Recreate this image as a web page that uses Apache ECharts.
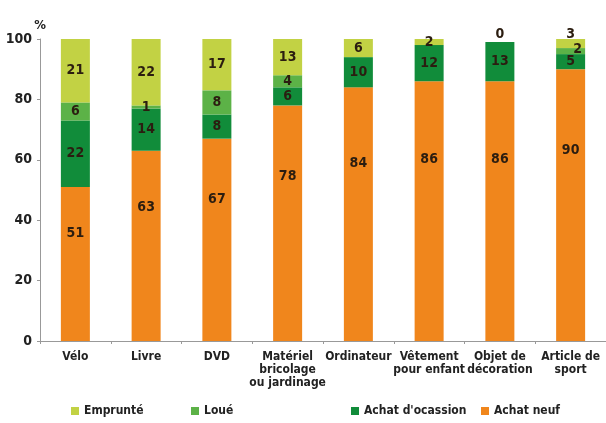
<!DOCTYPE html>
<html><head><meta charset="utf-8">
<script src="https://cdn.jsdelivr.net/npm/echarts@6/dist/echarts.min.js"></script>
<style>html,body{margin:0;padding:0;background:#fff}#c{width:606px;height:423px}</style>
</head><body><div id="c"></div>
<script>
var categories = ['Vélo','Livre','DVD','Matériel\nbricolage\nou jardinage','Ordinateur','Vêtement\npour enfant','Objet de\ndécoration','Article de\nsport'];
var achatNeuf = [51,63,67,78,84,86,86,90];
var achatOccasion = [22,14,8,6,10,12,13,5];
var loue = [6,1,8,4,0,0,0,2];
var emprunte = [21,22,17,13,6,2,0,3];
var yTicks = [0,20,40,60,80,100];

var FONT = '"Liberation Sans Narrow","DejaVu Sans Condensed",sans-serif';
var labelBase = {show:true, position:'inside', color:'#2b1d10', fontFamily:FONT, fontWeight:'bold', fontSize:14};

function mk(name, vals, color, overrides, seriesLabel){
  return {
    name:name, type:'bar', stack:'t', barWidth:29,
    itemStyle:{color:color},
    label:Object.assign({}, labelBase, {formatter:function(p){return p.value===0?'':p.value;}}, seriesLabel||{}),
    data: vals.map(function(v,i){
      var o = {value:v};
      if (overrides && overrides[i]) o.label = overrides[i];
      return o;
    })
  };
}
var zeroTop = {show:true, position:'top', distance:1, formatter:function(p){return String(p.value);}};
var empOver = {}; empOver[6] = zeroTop; empOver[7] = {position:'top', distance:-2};
var loueOver = {}; loueOver[7] = {position:'right', distance:-12, offset:[0,-2]};

var chart = echarts.init(document.getElementById('c'));
var legendCommon = {bottom:1, itemWidth:8, itemHeight:8, icon:'rect', textStyle:{fontFamily:FONT, fontSize:12, color:'#222', fontWeight:'bold'}};
chart.setOption({
  animation:false,
  grid:{left:40, right:0, top:39, bottom:82},
  legend:[
    Object.assign({left:66, data:['Emprunté']}, legendCommon),
    Object.assign({left:186, data:['Loué']}, legendCommon),
    Object.assign({left:346, data:["Achat d'ocassion"]}, legendCommon),
    Object.assign({left:476, data:['Achat neuf']}, legendCommon)
  ],
  xAxis:{type:'category', data:categories,
    axisLine:{lineStyle:{color:'#999'}},
    axisTick:{show:true, length:3, lineStyle:{color:'#999'}},
    axisLabel:{interval:0, color:'#222', fontFamily:FONT, fontWeight:'bold', fontSize:12, lineHeight:13, margin:9}
  },
  yAxis:{type:'value', min:0, max:100, interval:20, name:'%', nameGap:6,
    nameTextStyle:{color:'#222', fontFamily:FONT, fontWeight:'bold', fontSize:13, align:'center'},
    axisLine:{show:true, lineStyle:{color:'#999'}},
    axisTick:{show:true, length:3, lineStyle:{color:'#999'}},
    splitLine:{show:false},
    axisLabel:{color:'#222', fontFamily:FONT, fontWeight:'bold', fontSize:14, margin:8,
      formatter:function(v){return yTicks.indexOf(v)>=0?String(v):'';}}
  },
  series:[
    mk('Achat neuf', achatNeuf, '#F0861C', null, {position:['50%','30%'], align:'center', verticalAlign:'middle'}),
    mk("Achat d'ocassion", achatOccasion, '#118C3A'),
    mk('Loué', loue, '#5CB247', loueOver),
    mk('Emprunté', emprunte, '#C2D244', empOver)
  ]
});
</script></body></html>
